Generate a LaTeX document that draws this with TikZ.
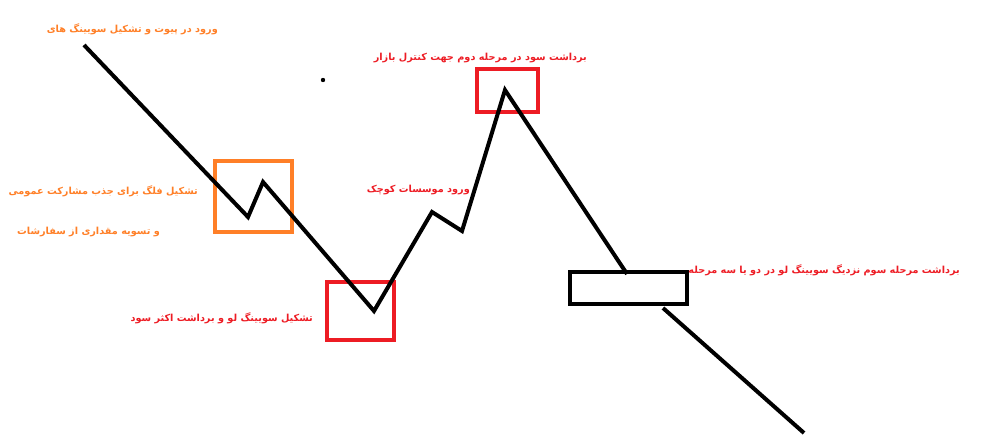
\documentclass[tikz,border=0pt]{standalone}
\usepackage{fontspec}
\newfontfamily\arabicfont[Script=Arabic]{DejaVu Sans}
\TeXXeTstate=1
\usetikzlibrary{positioning}
\definecolor{paintorange}{RGB}{255,127,39}
\definecolor{paintred}{RGB}{237,28,36}

\begin{document}
\begin{tikzpicture}[x=1pt,y=-1pt,
    pathline/.style={line width=4pt, black, line join=miter},
    zonebox/.style={rectangle, draw, line width=4pt, inner sep=0pt, fill=none},
    note/.style={font=\arabicfont\bfseries\fontsize{9.7}{11}\selectfont, inner sep=0pt, anchor=east}
    ]
    \useasboundingbox (0,0) rectangle (981,444);

    %Price path
    \coordinate (start)      at (84,45);
    \coordinate (flag_low)   at (248,217);
    \coordinate (flag_high)  at (263,182);
    \coordinate (swing_low)  at (374,311);
    \coordinate (step_high)  at (432,212);
    \coordinate (step_low)   at (462,231);
    \coordinate (peak)       at (505,90);
    \coordinate (third_top)  at (627,274);
    \coordinate (third_out)  at (663,308);
    \coordinate (finish)     at (804,433);

    %Boxes
    \node[zonebox, draw=paintorange, minimum width=77pt, minimum height=71pt] (flag_box)  at (253.5,196.5) {};
    \node[zonebox, draw=paintred,    minimum width=67pt, minimum height=58pt] (low_box)   at (360.5,311)   {};
    \node[zonebox, draw=paintred,    minimum width=61pt, minimum height=43pt] (peak_box)  at (507.5,90.5)  {};
    \node[zonebox, draw=black,       minimum width=117pt, minimum height=32pt] (third_box) at (628.5,288)  {};

    %Lines
    \draw[pathline] (start) -- (flag_low) -- (flag_high) -- (swing_low) -- (step_high)
        -- (step_low) -- (peak) -- (third_top);
    \draw[pathline] (third_out) -- (finish);

    %Dot
    \fill (323,80) circle (2.2pt);

    %Notes
    \node[note, text=paintorange] (entry_note)  at (218,29)  {\beginR ورود در پیوت و تشکیل سویینگ های\endR};
    \node[note, text=paintred]    (peak_note)   at (587,58)  {\beginR برداشت سود در مرحله دوم جهت کنترل بازار\endR};
    \node[note, text=paintorange] (flag_note)   at (198,191) {\beginR تشکیل فلگ برای جذب مشارکت عمومی\endR};
    \node[note, text=paintorange] (flag_note2)  at (160,232) {\beginR و تسویه مقداری از سفارشات\endR};
    \node[note, text=paintred]    (low_note)    at (313,318) {\beginR تشکیل سویینگ لو و برداشت اکثر سود\endR};
    \node[note, text=paintred]    (small_note)  at (470,190) {\beginR ورود موسسات کوچک\endR};
    \node[note, text=paintred]    (third_note)  at (960,270) {\beginR برداشت مرحله سوم نزدیگ سویینگ لو در دو یا سه مرحله\endR};

\end{tikzpicture}
\end{document}
